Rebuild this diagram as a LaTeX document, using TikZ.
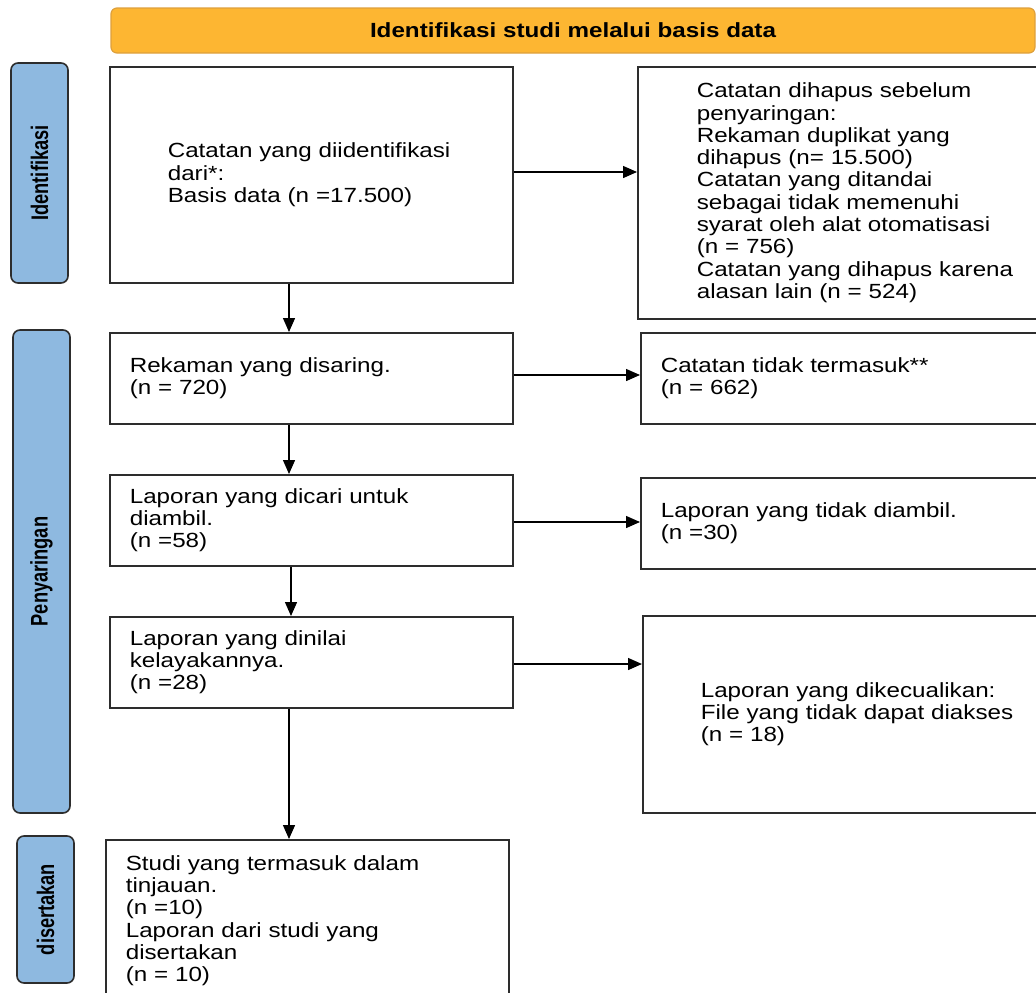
\documentclass[tikz,border=0pt]{standalone}
\usepackage{fontspec}
\setmainfont{Liberation Sans}[FakeStretch=1.18]
\newfontfamily\labelfont{Liberation Sans}[FakeStretch=0.76]
\usetikzlibrary{arrows.meta}
\definecolor{bannerfill}{RGB}{253,182,50}
\definecolor{bannerline}{RGB}{222,160,60}
\definecolor{sidefill}{RGB}{142,185,224}
\definecolor{edge}{RGB}{45,45,45}
\begin{document}
\begin{tikzpicture}[x=1pt,y=-1pt,
  box/.style={draw=edge, line width=1.6pt, fill=white, align=left, inner ysep=0pt,
    font=\fontsize{20.5}{22.3}\selectfont, anchor=north west},
  sidelabel/.style={draw=edge, line width=1.6pt, fill=sidefill, rounded corners=7pt,
    rotate=90, minimum height=57pt, inner sep=0pt,
    font=\labelfont\bfseries\fontsize{24}{26}\selectfont},
  arr/.style={draw=black, line width=1.4pt, -{Triangle[length=14pt,width=12pt]}}
]
\useasboundingbox (0,0) rectangle (1036,993);

% banner
\node[draw=bannerline, line width=1.2pt, fill=bannerfill, rounded corners=6pt,
  minimum width=924pt, minimum height=45pt, inner sep=0pt,
  font=\bfseries\fontsize{20.5}{22}\selectfont] (banner) at (573,30.5)
  {Identifikasi studi melalui basis data};

% side labels
\node[sidelabel, minimum width=220pt] (lab1) at (39.5,173) {Identifikasi};
\node[sidelabel, minimum width=483pt] (lab2) at (41.5,571.5) {Penyaringan};
\node[sidelabel, minimum width=147pt] (lab3) at (45.5,909.5) {disertakan};

% left column
\node[box, minimum width=403pt, minimum height=216pt, inner xsep=58pt, text width=287pt] (b1) at (109,66)
  {Catatan yang diidentifikasi\\dari*:\\Basis data (n =17.500)};
\node[box, minimum width=403pt, minimum height=91pt, inner xsep=20pt, text width=363pt] (b2) at (109,332)
  {Rekaman yang disaring.\\(n = 720)};
\node[box, minimum width=403pt, minimum height=91pt, inner xsep=20pt, text width=363pt] (b3) at (109,474)
  {Laporan yang dicari untuk\\diambil.\\(n =58)};
\node[box, minimum width=403pt, minimum height=91pt, inner xsep=20pt, text width=363pt] (b4) at (109,616)
  {Laporan yang dinilai\\kelayakannya.\\(n =28)};
\node[box, minimum width=403pt, minimum height=162pt, inner xsep=20pt, text width=363pt] (b5) at (105,839)
  {Studi yang termasuk dalam\\tinjauan.\\(n =10)\\Laporan dari studi yang\\disertakan\\(n = 10)};

% right column
\node[box, minimum height=252pt, inner xsep=59pt, text width=330pt] (r1) at (637,66)
  {Catatan dihapus sebelum\\penyaringan:\\Rekaman duplikat yang\\dihapus (n= 15.500)\\Catatan yang ditandai\\sebagai tidak memenuhi\\syarat oleh alat otomatisasi\\(n = 756)\\Catatan yang dihapus karena\\alasan lain (n = 524)};
\node[box, minimum height=91pt, inner xsep=20pt, text width=380pt] (r2) at (640,332)
  {Catatan tidak termasuk**\\(n = 662)};
\node[box, minimum height=91pt, inner xsep=20pt, text width=380pt] (r3) at (640,477)
  {Laporan yang tidak diambil.\\(n =30)};
\node[box, minimum height=197pt, inner xsep=58pt, text width=330pt] (r4) at (642,615)
  {Laporan yang dikecualikan:\\File yang tidak dapat diakses\\(n = 18)};

% helper coordinates
\coordinate (c1) at (289,0);
\coordinate (c3) at (291,0);
\coordinate (h1) at (0,172);
\coordinate (h2) at (0,375);
\coordinate (h3) at (0,522);
\coordinate (h4) at (0,664);

% vertical arrows
\draw[arr] (b1.south -| c1) -- (b2.north -| c1);
\draw[arr] (b2.south -| c1) -- (b3.north -| c1);
\draw[arr] (b3.south -| c3) -- (b4.north -| c3);
\draw[arr] (b4.south -| c1) -- (b5.north -| c1);

% horizontal arrows
\draw[arr] (b1.east |- h1) -- (r1.west |- h1);
\draw[arr] (b2.east |- h2) -- (r2.west |- h2);
\draw[arr] (b3.east |- h3) -- (r3.west |- h3);
\draw[arr] (b4.east |- h4) -- (r4.west |- h4);
\end{tikzpicture}
\end{document}
